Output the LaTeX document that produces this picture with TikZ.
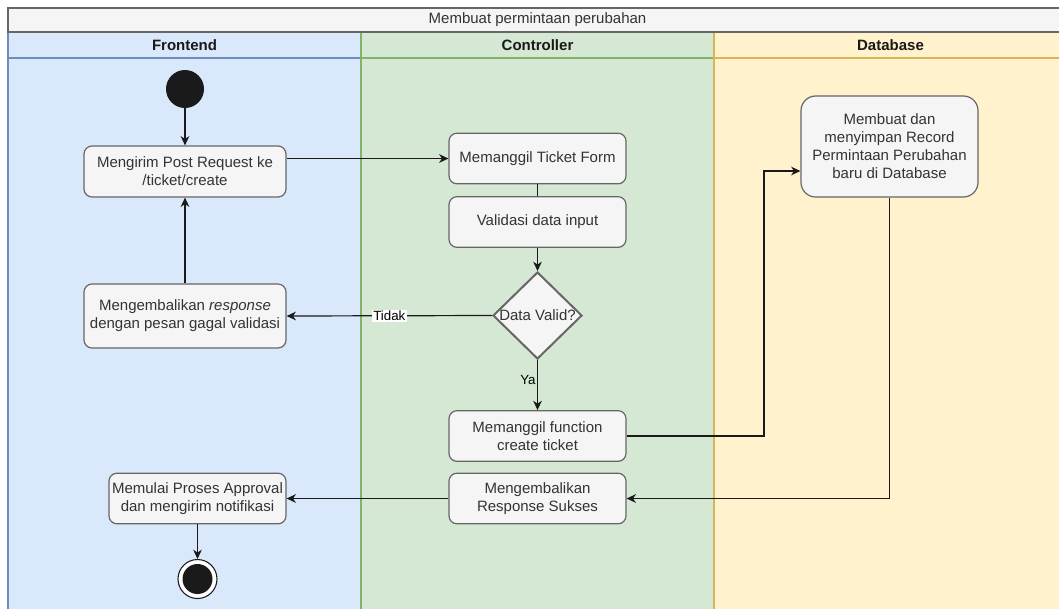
\documentclass[tikz,border=0pt]{standalone}
\usepackage{fontspec}
\setmainfont{Liberation Sans}
\usetikzlibrary{shapes.geometric,arrows.meta}

\definecolor{frontFill}{HTML}{DAE8FC}
\definecolor{frontLine}{HTML}{6C8EBF}
\definecolor{ctrlFill}{HTML}{D5E8D4}
\definecolor{ctrlLine}{HTML}{82B366}
\definecolor{dbFill}{HTML}{FFF2CC}
\definecolor{dbLine}{HTML}{D6B656}
\definecolor{poolFill}{HTML}{F5F5F5}
\definecolor{poolLine}{HTML}{666666}
\definecolor{actFill}{HTML}{F5F5F5}
\definecolor{actLine}{HTML}{666666}
\definecolor{actText}{HTML}{333333}
\definecolor{edgeCol}{HTML}{1A1A1A}
\definecolor{dotCol}{HTML}{1A1A1A}

\begin{document}
\begin{tikzpicture}[x=0.75pt,y=-0.75pt,
  txt/.style={font=\fontsize{11.25}{13.5}\selectfont},
  act/.style={txt, rectangle, rounded corners=6pt, draw=actLine, fill=actFill,
    line width=0.9pt, text=actText, align=center, inner sep=0pt,
    minimum width=132.75pt, minimum height=38pt},
  decision/.style={diamond, draw=actLine, fill=actFill, line width=1.5pt,
    inner sep=0pt, minimum width=66.75pt, minimum height=65.25pt},
  lanehead/.style={txt, font=\fontsize{11.25}{13.5}\selectfont\bfseries, text=black!90},
  arr/.style={draw=edgeCol, line width=0.9pt, -{Stealth[length=7pt,width=6.5pt,inset=2.2pt]}},
  plain/.style={draw=edgeCol, line width=0.9pt},
  elabel/.style={font=\fontsize{10}{12}\selectfont, text=black, inner sep=1pt}
]
\useasboundingbox (0,0) rectangle (1059,608);
\clip (0,0) rectangle (1059,608);

% swimlanes
\draw[fill=frontFill, draw=frontLine, line width=0.9pt] (8,32) rectangle (361,640);
\draw[draw=frontLine, line width=0.9pt] (8,58) -- (361,58);
\draw[fill=ctrlFill, draw=ctrlLine, line width=0.9pt] (361,32) rectangle (714,640);
\draw[draw=ctrlLine, line width=0.9pt] (361,58) -- (714,58);
\draw[fill=dbFill, draw=dbLine, line width=0.9pt] (714,32) rectangle (1067,640);
\draw[draw=dbLine, line width=0.9pt] (714,58) -- (1067,58);

% pool title band
\draw[fill=poolFill, draw=poolLine, line width=0.9pt] (8,8) rectangle (1067,32);
\node[txt, text=actText] (title) at (537.5,20) {Membuat permintaan perubahan};

\node[lanehead] (hfront) at (184.5,45) {Frontend};
\node[lanehead] (hctrl) at (537.5,45) {Controller};
\node[lanehead] (hdb) at (890.5,45) {Database};

% start and end
\node[circle, fill=dotCol, minimum size=28.5pt, inner sep=0pt] (start) at (185,89) {};
\node[circle, draw=dotCol, fill=white, line width=0.8pt, minimum size=29.25pt, inner sep=0pt] (end) at (197.5,579) {};
\fill[dotCol] (end.center) circle (11.25pt);

% activities
\node[act, minimum width=151.5pt, minimum height=38.25pt] (post) at (185,171.5)
  {Mengirim Post Request ke\\/ticket/create};
\node[act, minimum width=151.5pt, minimum height=48pt] (fail) at (185,316)
  {Mengembalikan \textit{response}\\dengan pesan gagal validasi};
\node[act] (form) at (537.5,158.5) {Memanggil Ticket Form};
\node[act] (valid) at (537.5,222) {Validasi data input};
\node[decision] (check) at (537.5,315.5) {};
\node[txt, text=actText] (checktext) at (check.center) {Data Valid?};
\node[act] (func) at (537.5,436) {Memanggil function\\create ticket};
\node[act] (ok) at (537.5,498.5) {Mengembalikan\\Response Sukses};
\node[act] (approve) at (197.5,498.5) {Memulai Proses Approval\\dan mengirim notifikasi};
\node[act, rounded corners=11pt, minimum height=75.75pt] (record) at (889.5,146.5)
  {Membuat dan\\menyimpan Record\\Permintaan Perubahan\\baru di Database};

\coordinate (upbend) at (764,171);

% flow
\draw[arr] (start) -- (post);
\draw[arr] (post.east |- form.west) -- (form.west);
\draw[plain] (form) -- (valid);
\draw[arr] (valid) -- (check.north);
\draw[arr] (check.west) -- node[elabel, fill=white] {Tidak} (fail.east);
\draw[arr] (fail) -- (post);
\draw[arr] (check.south) -- node[elabel, anchor=east, pos=0.4] {Ya} (func.north);
\draw[arr] (func.east) -| (upbend) -- (record.west |- upbend);
\draw[arr] (record.south) |- (ok.east);
\draw[arr] (ok) -- (approve);
\draw[arr] (approve) -- (end);
\end{tikzpicture}
\end{document}
